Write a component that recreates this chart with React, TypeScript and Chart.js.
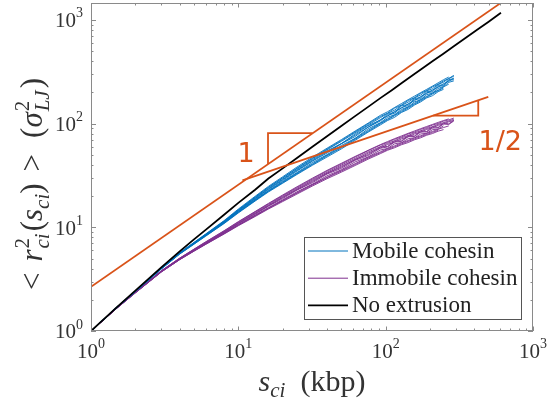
import { useEffect, useRef } from "react";
import { Chart, registerables } from "chart.js";

Chart.register(...registerables);

// ---------- data ----------
const S_GRID = [1, 1.5, 2, 3, 4, 5, 6, 8, 10, 13, 16, 20, 25, 32, 40, 50, 62, 76, 92, 103, 115, 128, 142, 157, 173, 190, 208, 227, 247, 268, 290];

const MOBILE_1 = [1, 1.7, 2.43, 4.03, 5.65, 7.08, 8.52, 11.45, 14.75, 19.5, 24.3, 30.0, 37.2, 46.6, 56.8, 68.6, 83.2, 99.5, 117, 126, 141, 151, 167, 178, 196, 209, 226, 240, 258, 272, 292];
const MOBILE_2 = [1, 1.69, 2.4, 3.96, 5.52, 6.86, 8.2, 10.85, 13.75, 17.9, 21.9, 26.6, 32.3, 39.8, 47.6, 57.0, 68.9, 82.6, 97.0, 107, 115, 128, 137, 151, 162, 177, 186, 203, 214];
const MOBILE_3 = [1, 1.7, 2.42, 4.01, 5.62, 7.04, 8.45, 11.3, 14.5, 19.1, 23.7, 29.2, 36.0, 45.0, 54.6, 64.0, 79.4, 95.5, 108, 123, 129, 148, 153, 174, 179, 203, 207, 234, 236, 266, 271];
const MOBILE_4 = [1, 1.7, 2.41, 3.98, 5.56, 6.94, 8.31, 11.0, 14.0, 18.3, 22.4, 27.3, 33.3, 41.1, 49.6, 59.5, 71.8, 86.0, 101, 111, 121, 133, 144, 157, 170, 183, 197, 210, 226, 240];
const MOBILE_5 = [1, 1.71, 2.44, 4.04, 5.67, 7.11, 8.56, 11.45, 14.7, 19.5, 24.2, 29.9, 36.8, 46.0, 55.9, 67.4, 81.6, 97.0, 114, 125, 135, 150, 161, 177, 189, 207, 217, 238, 251, 272, 286];
const MOBILE_6 = [1, 1.7, 2.42, 4.0, 5.6, 7.0, 8.4, 11.2, 14.3, 18.7, 23.1, 28.3, 34.8, 43.6, 52.0, 63.9, 75.0, 92.3, 106, 120, 126, 143, 149, 170, 174, 199, 202, 229, 232, 262, 265];
const MOBILE_7 = [1, 1.69, 2.41, 3.99, 5.58, 6.97, 8.35, 11.1, 14.1, 18.4, 22.6, 27.7, 33.7, 42.3, 50.2, 61.5, 72.0, 89.0, 102, 115, 122, 137, 145, 162, 170, 190, 197, 218, 228, 250, 258];
const MOBILE_8 = [1, 1.71, 2.44, 4.05, 5.69, 7.15, 8.62, 11.6, 15.0, 19.9, 24.8, 30.7, 38.1, 47.7, 57.9, 70.0, 84.7, 101, 120, 130, 143, 156, 170, 184, 199, 214, 230, 247, 265, 281];
const MOBILE_9 = [1, 1.69, 2.4, 3.97, 5.54, 6.9, 8.25, 10.95, 13.9, 18.1, 22.2, 26.9, 32.8, 40.5, 48.8, 58.4, 70.5, 84.0, 99.5, 109, 119, 130, 141, 154, 166, 180, 193, 207, 221];
const MOBILE_10 = [1, 1.7, 2.42, 4.01, 5.61, 7.02, 8.43, 11.25, 14.4, 18.95, 23.4, 28.8, 35.4, 44.1, 53.3, 64.2, 77.3, 92.5, 109, 118, 131, 141, 155, 166, 183, 195, 211, 224, 243, 255, 275];

const IMMOBILE_1 = [1, 1.68, 2.37, 3.8, 5.03, 6.13, 7.2, 9.2, 11.25, 14.1, 16.8, 20.2, 24.2, 29.4, 34.9, 40.8, 47.6, 54.7, 62.0, 65.8, 70.6, 74.4, 79.4, 83.0, 88.0, 91.7, 96.8, 100.3, 105.5, 108.5, 113];
const IMMOBILE_2 = [1, 1.66, 2.33, 3.7, 4.87, 5.88, 6.83, 8.6, 10.35, 12.7, 15.0, 17.7, 20.9, 25.1, 29.4, 34.0, 39.4, 45.4, 51.3, 55.3, 58.5, 62.5, 65.6, 69.8, 73.0, 77.3, 80.2, 84.5, 87.5];
const IMMOBILE_3 = [1, 1.67, 2.36, 3.76, 4.97, 6.03, 7.04, 8.96, 10.9, 13.55, 16.1, 19.3, 23.1, 27.6, 33.2, 37.9, 45.2, 50.3, 59.5, 60.2, 68.0, 68.2, 76.6, 76.0, 85.0, 84.0, 93.4, 92.0, 101.5, 99.5, 107.5];
const IMMOBILE_4 = [1, 1.67, 2.34, 3.72, 4.9, 5.93, 6.9, 8.74, 10.55, 13.0, 15.3, 18.2, 21.6, 25.9, 30.5, 35.4, 41.1, 47.3, 53.4, 57.4, 61.1, 65.2, 68.7, 72.9, 76.3, 80.4, 84.0, 88.1, 91.6, 95.0];
const IMMOBILE_5 = [1, 1.68, 2.37, 3.79, 5.01, 6.1, 7.13, 9.1, 11.1, 13.9, 16.5, 19.9, 23.7, 28.8, 34.0, 39.8, 46.2, 53.2, 60.0, 64.4, 68.4, 73.0, 76.8, 81.4, 85.2, 89.8, 93.5, 98.3, 102, 106, 110];
const IMMOBILE_6 = [1, 1.67, 2.35, 3.75, 4.95, 6.0, 7.0, 8.9, 10.8, 13.35, 15.95, 18.9, 22.8, 27.0, 32.6, 37.0, 44.2, 49.2, 57.8, 59.5, 66.3, 67.4, 74.6, 75.2, 82.8, 83.2, 90.5, 91.0, 99.0, 98.0, 106];
const IMMOBILE_7 = [1, 1.66, 2.34, 3.73, 4.92, 5.95, 6.93, 8.8, 10.6, 13.1, 15.5, 18.4, 22.0, 26.2, 31.4, 35.9, 42.7, 47.7, 55.6, 57.6, 63.8, 65.5, 71.4, 73.0, 79.4, 80.8, 87.3, 88.6, 95.1];
const IMMOBILE_8 = [1, 1.68, 2.38, 3.81, 5.05, 6.16, 7.24, 9.27, 11.35, 14.2, 17.0, 20.5, 24.6, 29.9, 35.4, 41.4, 48.2, 55.3, 62.7, 67.1, 71.6, 76.0, 80.5, 84.9, 89.4, 93.8, 98.2, 102.7, 107, 111];
const IMMOBILE_9 = [1, 1.66, 2.33, 3.71, 4.88, 5.9, 6.86, 8.66, 10.45, 12.85, 15.2, 18.0, 21.3, 25.6, 30.1, 34.8, 40.3, 46.4, 52.4, 56.2, 59.8, 63.7, 67.4, 71.1, 74.9, 78.6, 82.3, 86.0];
const IMMOBILE_10 = [1, 1.67, 2.36, 3.77, 4.98, 6.04, 7.06, 9.0, 10.95, 13.65, 16.2, 19.5, 23.2, 28.2, 33.2, 38.8, 44.8, 51.9, 58.2, 62.8, 66.4, 71.1, 74.7, 79.4, 82.9, 87.8, 91.2, 96.2, 99.4, 104, 107];

const NO_EXT_S = [1, 1.5, 2, 3, 4, 5, 6, 8, 10, 13, 16, 20, 25, 32, 40, 50, 62, 76, 92, 110, 130, 155, 180, 210, 245, 290, 350, 420, 500, 606];
const NO_EXT_R2 = [1, 1.7, 2.45, 4.1, 5.85, 7.65, 9.45, 13.2, 17.2, 23, 29.5, 37, 46.5, 60, 75.5, 95, 118, 145, 176, 210, 249, 297, 345, 403, 470, 556, 672, 806, 960, 1174];

const SLOPE1_S = [1, 606];
const SLOPE1_R2 = [2.67, 1460];
const SLOPE_HALF_S = [10.66, 497];
const SLOPE_HALF_R2 = [28.3, 181];
const TRI1_S = [15.9, 15.9, 31.9];
const TRI1_R2 = [40.7, 80.9, 80.9];
const TRI2_S = [210, 425, 425];
const TRI2_R2 = [119.5, 119.5, 167.8];

const X_RANGE = [1, 1000];
const Y_RANGE = [1, 1455];
const LEGEND_LABELS = ["Mobile cohesin", "Immobile cohesin", "No extrusion"];
const SLOPE_LABELS = ["1", "1/2"];

// ---------- styles ----------
const BLUE = "#0072BD";
const PURPLE = "#7E2F8E";
const ORANGE = "#D95319";
const BLACK = "#000000";
const AXIS = "#8a8a8a";
const TEXT = "#333333";
const SERIF = '"Liberation Serif", "DejaVu Serif", serif';
const SANS = '"DejaVu Sans", sans-serif';

const pts = (xs: number[], ys: number[]) => ys.map((y, i) => ({ x: xs[i], y }));

type Piece =
  | { t: string; s: number; it?: boolean; dy?: number }
  | { sup: string; sub: string; s: number; supDy: number; subDy: number }
  | { gap: number };

const fnt = (s: number, it = false, fam = SERIF) => `${it ? "italic " : ""}${s}px ${fam}`;

function pieceW(ctx: CanvasRenderingContext2D, p: Piece): number {
  if ("gap" in p) return p.gap;
  if ("t" in p) {
    ctx.font = fnt(p.s, p.it);
    return ctx.measureText(p.t).width;
  }
  ctx.font = fnt(p.s, false);
  const a = ctx.measureText(p.sup).width;
  ctx.font = fnt(p.s, true);
  const b = ctx.measureText(p.sub).width;
  return Math.max(a, b);
}

function drawPieces(ctx: CanvasRenderingContext2D, pieces: Piece[], x: number, y: number) {
  let cx = x;
  for (const p of pieces) {
    const w = pieceW(ctx, p);
    if ("t" in p) {
      ctx.font = fnt(p.s, p.it);
      ctx.fillText(p.t, cx, y + (p.dy || 0));
    } else if ("sup" in p) {
      ctx.font = fnt(p.s, false);
      ctx.fillText(p.sup, cx, y + p.supDy);
      ctx.font = fnt(p.s, true);
      ctx.fillText(p.sub, cx, y + p.subDy);
    }
    cx += w;
  }
  return cx - x;
}

const totalW = (ctx: CanvasRenderingContext2D, pieces: Piece[]) =>
  pieces.reduce((acc, p) => acc + pieceW(ctx, p), 0);

const M = 31;
const SS = 21;
const Y_TITLE: Piece[] = [
  { t: "<", s: M },
  { gap: 11 },
  { t: "r", s: M, it: true },
  { gap: 1 },
  { sup: "2", sub: "ci", s: SS, supDy: -13, subDy: 7 },
  { gap: 2 },
  { t: "(", s: M },
  { t: "s", s: M, it: true },
  { t: "ci", s: SS, it: true, dy: 7 },
  { t: ")", s: M },
  { gap: 12 },
  { t: ">", s: M },
  { gap: 16 },
  { t: "(", s: M },
  { t: "σ", s: M, it: true },
  { gap: 1 },
  { sup: "2", sub: "LJ", s: SS, supDy: -13, subDy: 7 },
  { gap: 2 },
  { t: ")", s: M },
];
const X_TITLE: Piece[] = [
  { t: "s", s: 30, it: true },
  { t: "ci", s: SS, it: true, dy: 6 },
  { gap: 15 },
  { t: "(kbp)", s: 30 },
];

function isTick(v: number) {
  const e = Math.floor(Math.log10(v) + 1e-9);
  const m = v / Math.pow(10, e);
  return Math.abs(m - Math.round(m)) < 1e-6 && Math.round(m) >= 1 && Math.round(m) <= 9;
}
function isMajor(v: number) {
  const l = Math.log10(v);
  return Math.abs(l - Math.round(l)) < 1e-9;
}

const decor = {
  id: "decor",
  afterDatasetsDraw(chart: any) {
    const ctx: CanvasRenderingContext2D = chart.ctx;
    const { left, right, top, bottom } = chart.chartArea;
    const xs = chart.scales.x;
    const ys = chart.scales.y;
    ctx.save();

    // slope labels
    ctx.fillStyle = ORANGE;
    ctx.font = fnt(27, false, SANS);
    ctx.textAlign = "center";
    ctx.textBaseline = "alphabetic";
    ctx.fillText(SLOPE_LABELS[0], xs.getPixelForValue(TRI1_S[0]) - 22, (ys.getPixelForValue(TRI1_R2[0]) + ys.getPixelForValue(TRI1_R2[1])) / 2 + 13);
    ctx.fillText(SLOPE_LABELS[1], xs.getPixelForValue(TRI2_S[1]) + 22, ys.getPixelForValue(TRI2_R2[0]) + 34);

    // frame
    ctx.strokeStyle = AXIS;
    ctx.lineWidth = 1;
    ctx.strokeRect(Math.round(left) + 0.5, Math.round(top) + 0.5, Math.round(right - left) - 1, Math.round(bottom - top) - 1);

    // ticks
    ctx.beginPath();
    for (const t of xs.ticks) {
      const v = t.value;
      if (v < xs.min || v > xs.max || !isTick(v)) continue;
      const len = isMajor(v) ? 4.5 : 2.5;
      const px = Math.round(xs.getPixelForValue(v)) + 0.5;
      ctx.moveTo(px, bottom);
      ctx.lineTo(px, bottom - len);
      ctx.moveTo(px, top);
      ctx.lineTo(px, top + len);
    }
    for (const t of ys.ticks) {
      const v = t.value;
      if (v < ys.min || v > ys.max || !isTick(v)) continue;
      const len = isMajor(v) ? 5 : 2.5;
      const py = Math.round(ys.getPixelForValue(v)) + 0.5;
      ctx.moveTo(left, py);
      ctx.lineTo(left + len, py);
      ctx.moveTo(right, py);
      ctx.lineTo(right - len, py);
    }
    ctx.stroke();

    // tick labels
    ctx.fillStyle = TEXT;
    ctx.textAlign = "left";
    const TF = 21;
    const SF = 14;
    for (const t of xs.ticks) {
      const v = t.value;
      if (v < xs.min || v > xs.max || !isMajor(v)) continue;
      const e = String(Math.round(Math.log10(v)));
      ctx.font = fnt(TF);
      const w1 = ctx.measureText("10").width;
      ctx.font = fnt(SF);
      const w2 = ctx.measureText(e).width;
      const x0 = xs.getPixelForValue(v) - (w1 + w2) / 2;
      ctx.font = fnt(TF);
      ctx.fillText("10", x0, bottom + 27);
      ctx.font = fnt(SF);
      ctx.fillText(e, x0 + w1, bottom + 17);
    }
    for (const t of ys.ticks) {
      const v = t.value;
      if (v < ys.min || v > ys.max || !isMajor(v)) continue;
      const e = String(Math.round(Math.log10(v)));
      ctx.font = fnt(TF);
      const w1 = ctx.measureText("10").width;
      ctx.font = fnt(SF);
      const w2 = ctx.measureText(e).width;
      const x0 = left - 8 - (w1 + w2);
      const py = ys.getPixelForValue(v);
      ctx.font = fnt(TF);
      ctx.fillText("10", x0, py + 7.3);
      ctx.font = fnt(SF);
      ctx.fillText(e, x0 + w1, py - 2.5);
    }

    // axis titles
    const xw = totalW(ctx, X_TITLE);
    drawPieces(ctx, X_TITLE, (left + right) / 2 - xw / 2, 391);
    ctx.save();
    ctx.translate(42, (top + bottom) / 2 + 17);
    ctx.rotate(-Math.PI / 2);
    const yw = totalW(ctx, Y_TITLE);
    drawPieces(ctx, Y_TITLE, -yw / 2, 0);
    ctx.restore();

    // legend
    const lx0 = 304, ly0 = 237, lx1 = 522, ly1 = 320;
    ctx.fillStyle = "#ffffff";
    ctx.fillRect(lx0, ly0, lx1 - lx0, ly1 - ly0);
    ctx.strokeStyle = "#555555";
    ctx.lineWidth = 1;
    ctx.strokeRect(lx0 + 0.5, ly0 + 0.5, lx1 - lx0 - 1, ly1 - ly0 - 1);
    const cols = [BLUE, PURPLE, BLACK];
    const widths = [1, 1, 1.6];
    LEGEND_LABELS.forEach((lab, i) => {
      const yy = 251 + i * 27.2;
      ctx.strokeStyle = cols[i];
      ctx.lineWidth = widths[i];
      ctx.beginPath();
      ctx.moveTo(308, yy);
      ctx.lineTo(348, yy);
      ctx.stroke();
      ctx.fillStyle = "#222222";
      ctx.font = fnt(23);
      ctx.fillText(lab, 352, yy + 7);
    });

    ctx.restore();
  },
};

export default function App() {
  const ref = useRef<HTMLCanvasElement | null>(null);
  useEffect(() => {
    if (!ref.current) return;
    const line = (data: any, color: string, width: number) => ({
      data,
      borderColor: color,
      backgroundColor: color,
      borderWidth: width,
      pointRadius: 0,
      fill: false,
      tension: 0,
    });
    const mobile = [MOBILE_1, MOBILE_2, MOBILE_3, MOBILE_4, MOBILE_5, MOBILE_6, MOBILE_7, MOBILE_8, MOBILE_9, MOBILE_10];
    const immobile = [IMMOBILE_1, IMMOBILE_2, IMMOBILE_3, IMMOBILE_4, IMMOBILE_5, IMMOBILE_6, IMMOBILE_7, IMMOBILE_8, IMMOBILE_9, IMMOBILE_10];
    const datasets: any[] = [
      line(pts(SLOPE1_S, SLOPE1_R2), ORANGE, 1.8),
      line(pts(SLOPE_HALF_S, SLOPE_HALF_R2), ORANGE, 1.8),
      line(pts(TRI1_S, TRI1_R2), ORANGE, 1.8),
      line(pts(TRI2_S, TRI2_R2), ORANGE, 1.8),
      line(pts(NO_EXT_S, NO_EXT_R2), BLACK, 1.8),
      ...mobile.map((m) => line(pts(S_GRID, m), BLUE, 0.9)),
      ...immobile.map((m) => line(pts(S_GRID, m), PURPLE, 0.9)),
    ];
    const chart = new Chart(ref.current, {
      type: "line",
      data: { datasets },
      options: {
        animation: false,
        responsive: false,
        maintainAspectRatio: false,
        events: [],
        layout: { padding: { left: 91, right: 14, top: 3, bottom: 74 } },
        plugins: { legend: { display: false }, tooltip: { enabled: false } },
        scales: {
          x: {
            type: "logarithmic",
            min: X_RANGE[0],
            max: X_RANGE[1],
            ticks: { display: false },
            grid: { display: false, drawTicks: false },
            border: { display: false },
            afterFit: (s: any) => {
              s.height = 0;
            },
          },
          y: {
            type: "logarithmic",
            min: Y_RANGE[0],
            max: Y_RANGE[1],
            ticks: { display: false },
            grid: { display: false, drawTicks: false },
            border: { display: false },
            afterFit: (s: any) => {
              s.width = 0;
            },
          },
        },
      },
      plugins: [decor],
    } as any);
    return () => chart.destroy();
  }, []);
  return (
    <div style={{ position: "fixed", left: 0, top: 0, width: 547, height: 405, background: "#fff" }}>
      <canvas ref={ref} width={547} height={405} style={{ display: "block", width: 547, height: 405 }} />
    </div>
  );
}
